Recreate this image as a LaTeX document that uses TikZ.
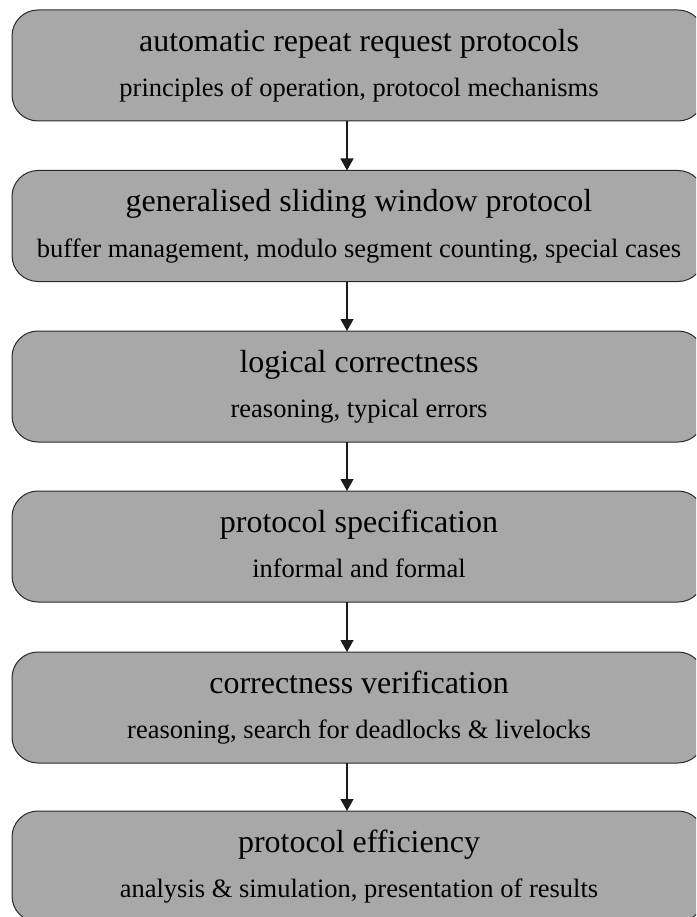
\documentclass[tikz,border=0pt]{standalone}
\usepackage{fontspec}
\setmainfont{Liberation Serif}
\usetikzlibrary{arrows.meta}
\definecolor{boxfill}{HTML}{A8A8A8}
\definecolor{boxline}{HTML}{2A2A2A}
\definecolor{arrowcol}{HTML}{1E1A1A}
\tikzset{
  stage/.style={draw=boxline, line width=1pt, fill=boxfill, rounded corners=26pt,
    minimum width=692pt, minimum height=111pt, inner sep=0pt, outer sep=0pt},
  titletext/.style={anchor=base, inner sep=0pt, font=\fontsize{32}{38}\selectfont},
  subtext/.style={anchor=base, inner sep=0pt, font=\fontsize{26.5}{32}\selectfont},
  flowarrow/.style={draw=arrowcol, line width=1.3pt, -{Triangle[length=12pt,width=13pt]}}
}
\begin{document}
\begin{tikzpicture}[x=1pt,y=-1pt]
\useasboundingbox (0,0) rectangle (696,917);
\clip (0,0) rectangle (696,917);
\fill[white] (0,0) rectangle (696,917);
\coordinate (ax) at (347,0);
% boxes
\node[stage] (b1) at (358,65.5) {};
\node[stage] (b2) at (358,226) {};
\node[stage] (b3) at (358,386.5) {};
\node[stage] (b4) at (358,546.5) {};
\node[stage] (b5) at (358,707.5) {};
\node[stage] (b6) at (358,866.5) {};
% texts
\node[titletext] (t1) at (359,51.5) {automatic repeat request protocols};
\node[subtext] (s1) at (359,97) {principles of operation, protocol mechanisms};
\node[titletext] (t2) at (359,212) {generalised sliding window protocol};
\node[subtext] (s2) at (359,257) {buffer management, modulo segment counting, special cases};
\node[titletext] (t3) at (359,372.5) {logical correctness};
\node[subtext] (s3) at (359,417.5) {reasoning, typical errors};
\node[titletext] (t4) at (359,532.5) {protocol specification};
\node[subtext] (s4) at (359,577.5) {informal and formal};
\node[titletext] (t5) at (359,693.5) {correctness verification};
\node[subtext] (s5) at (359,738.5) {reasoning, search for deadlocks \& livelocks};
\node[titletext] (t6) at (359,852.5) {protocol efficiency};
\node[subtext] (s6) at (359,897.5) {analysis \& simulation, presentation of results};
% arrows
\draw[flowarrow] (b1.south -| ax) -- (b2.north -| ax);
\draw[flowarrow] (b2.south -| ax) -- (b3.north -| ax);
\draw[flowarrow] (b3.south -| ax) -- (b4.north -| ax);
\draw[flowarrow] (b4.south -| ax) -- (b5.north -| ax);
\draw[flowarrow] (b5.south -| ax) -- (b6.north -| ax);
\end{tikzpicture}
\end{document}
